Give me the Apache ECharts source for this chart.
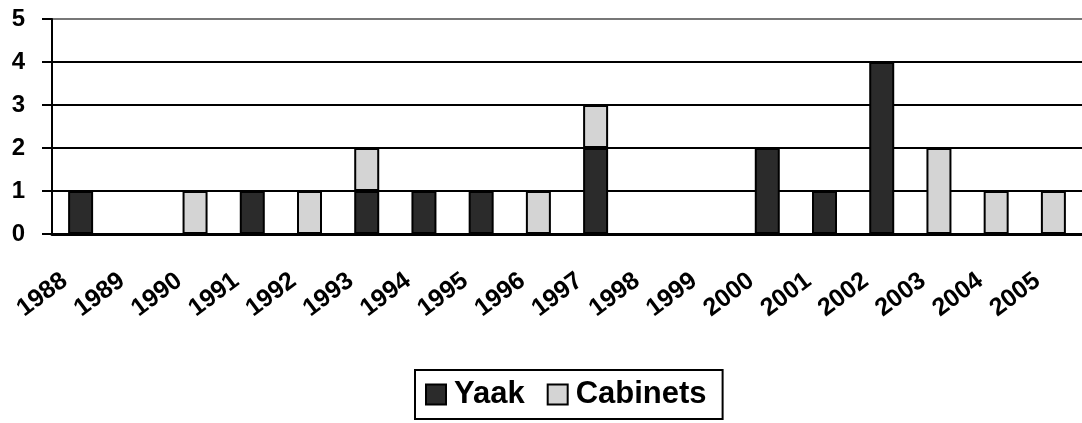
<!DOCTYPE html>
<html>
<head>
<meta charset="utf-8">
<script src="https://cdn.jsdelivr.net/npm/echarts@6/dist/echarts.min.js"></script>
<style>
    html, body { margin: 0; padding: 0; background: #fff; }
    #chart { width: 1082px; height: 423px; }
</style>
</head>
<body>
<div id="chart"></div>
<script>
var years = ['1988', '1989', '1990', '1991', '1992', '1993', '1994', '1995', '1996',
    '1997', '1998', '1999', '2000', '2001', '2002', '2003', '2004', '2005'];
var yaak = [1, 0, 0, 1, 0, 1, 1, 1, 0, 2, 0, 0, 2, 1, 4, 0, 0, 0];
var cabinets = [0, 0, 1, 0, 1, 1, 0, 0, 1, 1, 0, 0, 0, 0, 0, 2, 1, 1];

// zero counts draw no bar
function bars(arr) {
    return arr.map(function (v) { return v === 0 ? '-' : v; });
}

var myChart = echarts.init(document.getElementById('chart'));
var font = 'Liberation Sans, Arial, sans-serif';

var option = {
    animation: false,
    backgroundColor: '#fff',
    grid: {
        left: 52,
        top: 19,
        width: 1035,
        height: 215
    },
    legend: {
        left: 415,
        top: 370,
        padding: [9, 16, 9, 10],
        itemGap: 22,
        itemWidth: 20,
        itemHeight: 20,
        borderColor: '#000',
        borderWidth: 2,
        icon: 'rect',
        textStyle: {
            fontFamily: font,
            fontWeight: 'bold',
            fontSize: 31,
            color: '#000',
            padding: [0, 0, 0, 3]
        },
        data: ['Yaak', 'Cabinets']
    },
    xAxis: {
        type: 'category',
        data: years,
        axisLine: { lineStyle: { color: '#000', width: 3 } },
        axisTick: { length: 11, lineStyle: { color: '#000', width: 2 } },
        axisLabel: {
            rotate: 37,
            margin: 32,
            padding: [0, 20, 0, 0],
            interval: 0,
            fontFamily: font,
            fontWeight: 'bold',
            fontSize: 25,
            color: '#000'
        }
    },
    yAxis: {
        type: 'value',
        min: 0,
        max: 5,
        interval: 1,
        axisLine: { show: true, lineStyle: { color: '#000', width: 2 } },
        axisTick: { show: true, length: 10, lineStyle: { color: '#000', width: 2 } },
        axisLabel: {
            margin: 27,
            fontFamily: font,
            fontWeight: 'bold',
            fontSize: 24,
            color: '#000'
        },
        splitLine: {
            lineStyle: {
                color: ['#000', '#000', '#000', '#000', '#000', '#777'],
                width: 2
            }
        }
    },
    series: [
        {
            name: 'Yaak',
            type: 'bar',
            stack: 'total',
            barWidth: 25,
            itemStyle: { color: '#2b2b2b', borderColor: '#000', borderWidth: 2 },
            data: bars(yaak)
        },
        {
            name: 'Cabinets',
            type: 'bar',
            stack: 'total',
            barWidth: 25,
            itemStyle: { color: '#d4d4d4', borderColor: '#000', borderWidth: 2 },
            data: bars(cabinets)
        }
    ]
};

option && myChart.setOption(option);
window.addEventListener('resize', myChart.resize);
</script>
</body>
</html>
